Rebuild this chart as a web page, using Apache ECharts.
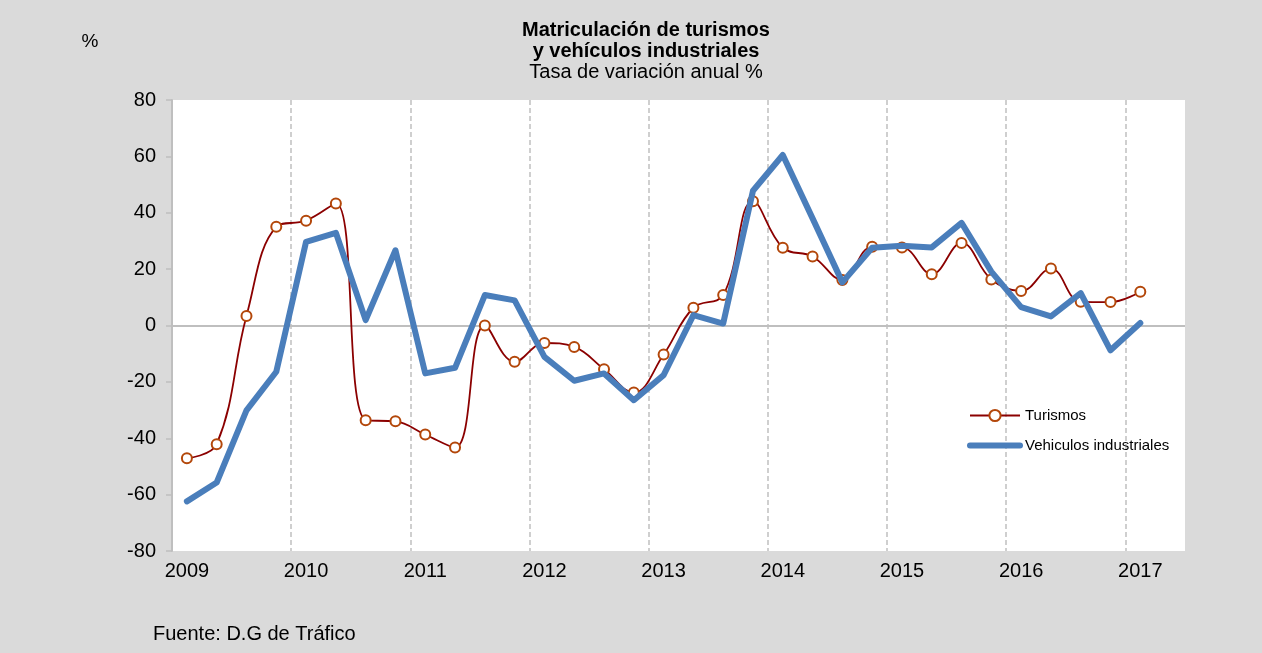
<!DOCTYPE html>
<html>
<head>
<meta charset="utf-8">
<script src="https://cdn.jsdelivr.net/npm/echarts@6/dist/echarts.min.js"></script>
<style>
  html, body { margin: 0; padding: 0; background: #dadada; }
  #chart { width: 1262px; height: 653px; }
</style>
</head>
<body>
<div id="chart"></div>
<script>
// años y trimestres (la última posición queda vacía)
var years = ['2009', '2010', '2011', '2012', '2013', '2014', '2015', '2016', '2017'];
var quarters = ['T1', 'T2', 'T3', 'T4'];
var categories = [];
years.forEach(function (y) {
  quarters.forEach(function (q) {
    if (categories.length < 34) categories.push(y + ' ' + q);
  });
});

// tasas de variación anual (%)
var turismos = [-47.1, -42.1, 3.4, 35.0, 37.2, 43.3, -33.6, -34.0, -38.7, -43.3,
  0, -12.9, -6.2, -7.6, -15.5, -23.8, -10.3, 6.3, 10.8, 44.1,
  27.6, 24.5, 16.1, 27.9, 27.7, 18.2, 29.3, 16.3, 12.2, 20.2,
  8.4, 8.3, 12.0];
var vehiculos = [-62.4, -55.7, -30.1, -16.4, 29.7, 32.9, 1.9, 26.7, -17.0, -15.0,
  10.8, 8.9, -11.1, -19.6, -17.0, -26.5, -17.6, 3.7, 0.7, 47.8,
  60.5, 38.0, 15.3, 27.6, 28.3, 27.7, 36.4, 19.1, 6.5, 3.2,
  11.5, -8.8, 0.9];

var myChart = echarts.init(document.getElementById('chart'));

var font = 'Liberation Sans, Arial, sans-serif';
var gris = '#c0c0c0';

var option = {
  animation: false,
  backgroundColor: '#dadada',
  textStyle: { fontFamily: font },
  title: [
    {
      text: 'Matriculación de turismos\ny vehículos industriales',
      left: 646, top: 20, textAlign: 'center', padding: 0,
      textStyle: { fontSize: 20, fontWeight: 'bold', color: '#000', lineHeight: 21, fontFamily: font }
    },
    {
      text: 'Tasa de variación anual %',
      left: 646, top: 62, textAlign: 'center', padding: 0,
      textStyle: { fontSize: 20, fontWeight: 'normal', color: '#000', lineHeight: 21, fontFamily: font }
    },
    {
      text: '%',
      left: 90, top: 32, textAlign: 'center', padding: 0,
      textStyle: { fontSize: 19, fontWeight: 'normal', color: '#000', lineHeight: 20, fontFamily: font }
    },
    {
      text: 'Fuente: D.G de Tráfico',
      left: 153, top: 624, padding: 0,
      textStyle: { fontSize: 20, fontWeight: 'normal', color: '#000', lineHeight: 20, fontFamily: font }
    }
  ],
  grid: {
    left: 172,
    right: 77,
    top: 100,
    bottom: 102,
    show: true,
    backgroundColor: '#ffffff',
    borderWidth: 0
  },
  legend: {
    orient: 'vertical',
    left: 967,
    top: 408,
    padding: 0,
    itemWidth: 50,
    itemHeight: 14,
    itemGap: 15,
    textStyle: { fontSize: 15, color: '#000', fontFamily: font },
    data: [
      'Turismos',
      {
        name: 'Vehiculos industriales',
        itemStyle: { opacity: 0, borderWidth: 0 },
        lineStyle: { width: 6 }
      }
    ]
  },
  xAxis: {
    type: 'category',
    data: categories,
    boundaryGap: true,
    axisLine: { show: false },
    axisTick: { show: false, interval: 3 },
    axisLabel: {
      interval: 3,
      fontSize: 20,
      color: '#000',
      margin: 10,
      formatter: function (v) { return v.split(' ')[0]; }
    },
    splitLine: {
      show: true,
      interval: 3,
      lineStyle: {
        // sin línea en el borde derecho
        color: [gris, gris, gris, gris, gris, gris, gris, gris, gris, 'transparent'],
        width: 1.5,
        type: [5, 3]
      }
    }
  },
  yAxis: {
    type: 'value',
    min: -80,
    max: 80,
    interval: 20,
    axisLine: { show: true, lineStyle: { color: '#bfbfbf', width: 2 } },
    axisTick: { show: true, length: 6, lineStyle: { color: '#bfbfbf', width: 1.5 } },
    axisLabel: { fontSize: 20, color: '#000', margin: 16 },
    splitLine: {
      show: true,
      lineStyle: {
        // solo la línea del cero
        color: ['transparent', 'transparent', 'transparent', 'transparent', '#bfbfbf',
          'transparent', 'transparent', 'transparent', 'transparent'],
        width: 2
      }
    }
  },
  series: [
    {
      name: 'Turismos',
      type: 'line',
      data: turismos,
      smooth: 0.4,
      symbol: 'circle',
      symbolSize: 10,
      showSymbol: true,
      lineStyle: { color: '#8b0000', width: 1.8 },
      itemStyle: { color: '#ffffff', borderColor: '#b3470a', borderWidth: 2 },
      z: 2
    },
    {
      name: 'Vehiculos industriales',
      type: 'line',
      data: vehiculos,
      symbol: 'none',
      lineStyle: { color: '#4a7ebb', width: 6, cap: 'round', join: 'round' },
      itemStyle: { color: '#4a7ebb' },
      z: 3
    }
  ]
};

myChart.setOption(option);
</script>
</body>
</html>
